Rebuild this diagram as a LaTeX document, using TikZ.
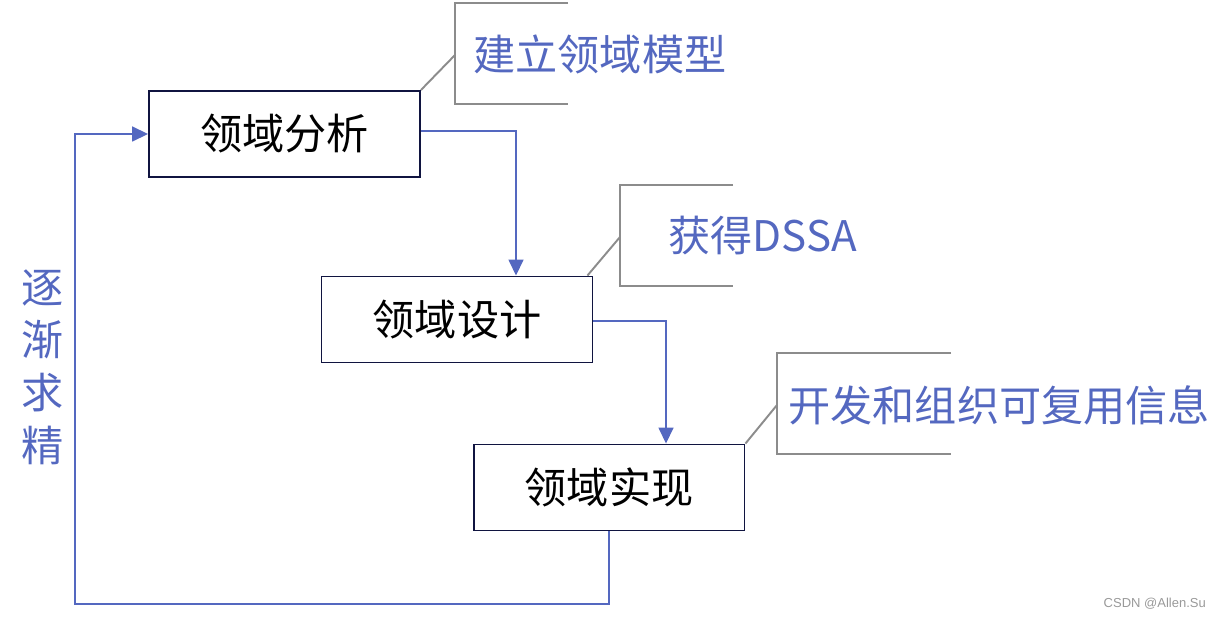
\documentclass[tikz,border=0pt]{standalone}
\usepackage{fontspec}
\setmainfont{Noto Sans CJK SC}
\newfontfamily\wmfont{Liberation Sans}
\usetikzlibrary{arrows.meta}
\definecolor{lineblue}{RGB}{84,104,192}
\definecolor{boxnavy}{RGB}{16,20,64}
\definecolor{callgray}{RGB}{140,140,140}

\begin{document}
\begin{tikzpicture}[x=0.02cm,y=-0.02cm,
  stage/.style={draw=boxnavy,line width=1.1pt,minimum width=5.42cm,minimum height=1.72cm,inner sep=0pt,font=\fontsize{24}{28}\selectfont},
  flow/.style={draw=lineblue,line width=0.9pt,-{Triangle[length=0.32cm,width=0.3cm]}},
  bracket/.style={draw=callgray,line width=1.1pt},
  note/.style={anchor=west,inner sep=0pt,text=lineblue,font=\fontsize{24}{28}\selectfont}]
\useasboundingbox (0,0) rectangle (1226,618);
% the three stages
\node[stage] (ana) at (284.5,134) {领域分析};
\node[stage] (des) at (457,319.5) {领域设计};
\node[stage] (imp) at (609,487.5) {领域实现};
% flow between stages
\coordinate (c1) at (516,131);
\coordinate (c2) at (666,321);
\coordinate (c3) at (75,604);
\draw[flow] (ana.east |- c1) -- (c1) -- (c1 |- des.north);
\draw[flow] (des.east |- c2) -- (c2) -- (c2 |- imp.north);
\draw[flow] (imp.south) |- (c3) |- (ana.west);
\node[text=lineblue,align=center,font=\fontsize{24}{30}\selectfont] (refine) at (43,367) {逐\\渐\\求\\精};
% callouts
\coordinate (k1) at (455,55);
\coordinate (k2) at (620,237);
\coordinate (k3) at (777,405);
\draw[bracket] (568,3) -- (455,3) -- (455,104) -- (568,104);
\draw[bracket] (733,185) -- (620,185) -- (620,286) -- (733,286);
\draw[bracket] (951,353) -- (777,353) -- (777,454) -- (951,454);
\draw[bracket] (ana.north east) -- (k1);
\draw[bracket] (des.north east) ++(-6,0) -- (k2);
\draw[bracket] (imp.north east) -- (k3);
\node[note] (n1) at (473,54) {建立领域模型};
\node[note] (n2) at (668,236) {获得DSSA};
\node[note] (n3) at (788,405) {开发和组织可复用信息};
\node[anchor=east,text=gray!80,font=\wmfont\fontsize{7.4}{9}\selectfont] (mark) at (1212,604) {CSDN @Allen.Su};
\end{tikzpicture}
\end{document}
